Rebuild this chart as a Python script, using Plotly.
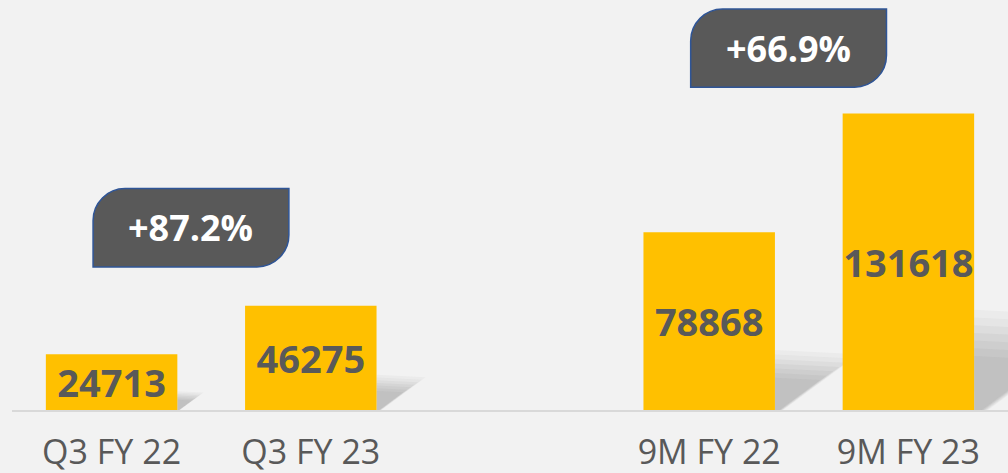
import plotly.graph_objects as go

# ---- data ----
categories = ["Q3 FY 22", "Q3 FY 23", "9M FY 22", "9M FY 23"]
values = [24713, 46275, 78868, 131618]
growth_labels = ["+87.2%", "+66.9%"]

# slot positions: a blank slot between the quarterly and nine-month pairs
positions = [i if i < 2 else i + 1 for i in range(len(categories))]

BAR_COLOR = "#FFC000"
TEXT_COLOR = "#595959"
BG = "#F2F2F2"
BAR_W = 0.66
Y_MAX = 182000
FONT = "Open Sans"

fig = go.Figure()
fig.add_trace(go.Bar(
    x=positions, y=values, width=BAR_W,
    marker=dict(color=BAR_COLOR, line=dict(width=0)),
    text=[str(v) for v in values],
    textposition="inside", insidetextanchor="middle",
    constraintext="none", textangle=0,
    textfont=dict(family=FONT, size=38, color=TEXT_COLOR, weight="bold"),
    hoverinfo="skip",
))

shapes = []
# soft shadows to the right of each bar (derived from bar value)
layers = [(1.3, 0.05), (1.2, 0.05), (1.1, 0.06), (1.0, 0.07),
          (0.9, 0.07), (0.8, 0.07), (0.7, 0.07)]
for p, v in zip(positions, values):
    xr = p + BAR_W / 2
    hs = 0.26 * v
    L = v * 4.1e-6
    for scale, op in layers:
        h = hs * scale
        l = L * scale
        path = (f"M {xr},0 L {xr},{h} L {xr + l},{h * 0.93} "
                f"L {xr + l * 0.1},0 Z")
        shapes.append(dict(type="path", xref="x", yref="y", path=path,
                           fillcolor=f"rgba(110,110,110,{op})",
                           line=dict(width=0), layer="below"))

# callout boxes (top-left and bottom-right rounded)
def callout(x0, x1, y0, y1, rx, ry):
    k = 0.5523
    return (f"M {x0},{y0} L {x0},{y1 - ry} "
            f"C {x0},{y1 - ry + k * ry} {x0 + rx - k * rx},{y1} {x0 + rx},{y1} "
            f"L {x1},{y1} L {x1},{y0 + ry} "
            f"C {x1},{y0 + ry - k * ry} {x1 - rx + k * rx},{y0} {x1 - rx},{y0} Z")

px_x = 1 / 199.2
px_y = Y_MAX / 410
boxes = [
    (positions[0] - 0.093, positions[0] + 0.89, 63500, 98300),
    (positions[2] - 0.093, positions[2] + 0.89, 143300, 178000),
]
annotations = []
for (x0, x1, y0, y1), lab in zip(boxes, growth_labels):
    shapes.append(dict(type="path", xref="x", yref="y",
                       path=callout(x0, x1, y0, y1, 32 * px_x, 32 * px_y),
                       fillcolor="#595959",
                       line=dict(color="#2F5597", width=1.5), layer="above"))
    annotations.append(dict(x=(x0 + x1) / 2, y=(y0 + y1) / 2, xref="x", yref="y",
                            text=lab, showarrow=False,
                            font=dict(family=FONT, size=36, color="white", weight="bold")))

fig.update_layout(
    width=1008, height=473,
    margin=dict(l=12, r=0, t=0, b=63),
    paper_bgcolor=BG, plot_bgcolor=BG,
    showlegend=False,
    shapes=shapes, annotations=annotations,
    xaxis=dict(range=[-0.5, 4.5], tickvals=positions, ticktext=categories,
               showgrid=False, zeroline=False, showline=True,
               linecolor="#D9D9D9", linewidth=2, ticks="",
               tickfont=dict(family=FONT, size=34, color=TEXT_COLOR),
               ticklabelstandoff=11, automargin=False, fixedrange=True),
    yaxis=dict(range=[0, Y_MAX], visible=False, showgrid=False,
               zeroline=False, fixedrange=True),
)

fig.write_html("out.html", config={"displayModeBar": False},
               post_script="document.body.style.margin='0';document.body.style.overflow='hidden';")
